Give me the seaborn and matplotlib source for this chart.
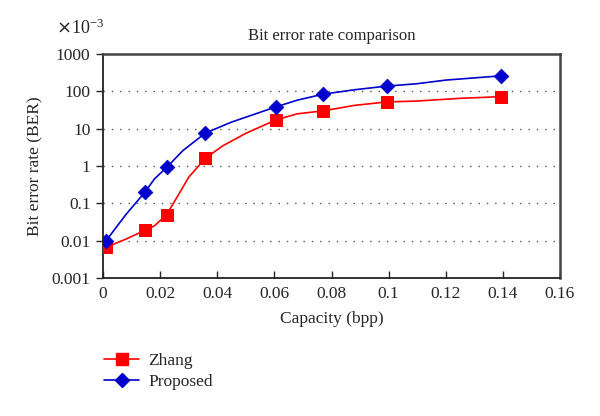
import pandas as pd
import matplotlib.pyplot as plt
import seaborn as sns
from matplotlib.lines import Line2D
from matplotlib.ticker import FixedLocator, FixedFormatter, NullLocator

# marker points
marker_x = [0.001, 0.0147, 0.0223, 0.0358, 0.0604, 0.0771, 0.0993, 0.1394]
zhang_marks = [0.0066, 0.019, 0.05, 1.6, 17, 30, 52, 72]
proposed_marks = [0.0098, 0.2, 0.92, 7.6, 38, 84, 138, 260]

# curves (denser points)
zhang_line_x = [0.001, 0.008, 0.0147, 0.018, 0.0223, 0.026, 0.03, 0.0358, 0.042, 0.05,
                0.0604, 0.068, 0.0771, 0.088, 0.0993, 0.11, 0.125, 0.1394]
zhang_line_y = [0.0066, 0.011, 0.019, 0.025, 0.05, 0.15, 0.5, 1.6, 3.5, 7.5,
                17, 25, 30, 42, 52, 55, 65, 72]
proposed_line_x = [0.001, 0.008, 0.0147, 0.018, 0.0223, 0.028, 0.0358, 0.045, 0.0604,
                   0.068, 0.0771, 0.088, 0.0993, 0.11, 0.12, 0.1394]
proposed_line_y = [0.0098, 0.05, 0.2, 0.45, 0.92, 2.6, 7.6, 15, 38,
                   58, 84, 110, 138, 160, 200, 260]

y_ticks = [0.001, 0.01, 0.1, 1, 10, 100, 1000]
y_tick_labels = ['0.001', '0.01', '0.1', '1', '10', '100', '1000']
x_ticks = [0, 0.02, 0.04, 0.06, 0.08, 0.1, 0.12, 0.14, 0.16]
x_tick_labels = ['0', '0.02', '0.04', '0.06', '0.08', '0.1', '0.12', '0.14', '0.16']

sns.set_style('white')
plt.rcParams['font.family'] = ['Liberation Serif', 'DejaVu Serif']

red = '#ff0000'
blue = '#0000cc'

fig = plt.figure(figsize=(6, 4.16), dpi=100)
ax = fig.add_axes([0.1717, 0.3317, 0.7616, 0.5385])

sns.lineplot(x=zhang_line_x, y=zhang_line_y, color=red, lw=1.2, ax=ax, sort=False, estimator=None)
sns.lineplot(x=proposed_line_x, y=proposed_line_y, color=blue, lw=1.2, ax=ax, sort=False, estimator=None)
sns.scatterplot(x=marker_x, y=zhang_marks, color=red, marker='s', s=80, edgecolor=red, ax=ax, zorder=3)
sns.scatterplot(x=marker_x, y=proposed_marks, color=blue, marker='D', s=55, edgecolor=blue, ax=ax, zorder=4)

ax.set_yscale('log')
ax.set_ylim(0.001, 1000)
ax.set_xlim(0, 0.16)
ax.yaxis.set_major_locator(FixedLocator(y_ticks))
ax.yaxis.set_major_formatter(FixedFormatter(y_tick_labels))
ax.yaxis.set_minor_locator(NullLocator())
ax.set_xticks(x_ticks)
ax.set_xticklabels(x_tick_labels)

for y in y_ticks[1:-1]:
    ax.axhline(y, color='#555555', ls=(0, (1, 5)), lw=1.0, zorder=0)

for side in ['left', 'bottom', 'top', 'right']:
    ax.spines[side].set_visible(True)
    ax.spines[side].set_color('#222222')
ax.spines['left'].set_linewidth(1.3)
ax.spines['bottom'].set_linewidth(1.3)
ax.spines['top'].set_linewidth(1.8)
ax.spines['right'].set_linewidth(1.8)
ax.spines['top'].set_color('#444444')
ax.spines['right'].set_color('#444444')

ax.tick_params(axis='y', which='major', direction='out', length=5, width=1, left=True,
               labelsize=12.5, pad=4)
ax.tick_params(axis='x', which='major', direction='in', length=5, width=1, bottom=True,
               labelsize=12.5, pad=6)

ax.set_title('Bit error rate comparison', fontsize=12, pad=10)
ax.set_xlabel('Capacity (bpp)', fontsize=12.5, labelpad=6)
ax.set_ylabel('Bit error rate (BER)', fontsize=12.5, labelpad=6)
fig.text(0.093, 0.918, r'$\times\mathregular{10^{-3}}$', fontsize=13)

handles = [
    Line2D([], [], color=red, lw=1.2, marker='s', markersize=8),
    Line2D([], [], color=blue, lw=1.2, marker='D', markersize=7),
]
fig.legend(handles, ['Zhang', 'Proposed'], loc='upper left', bbox_to_anchor=(0.162, 0.168),
           frameon=False, fontsize=12.5, handlelength=2.0, handletextpad=0.55,
           labelspacing=0.25, borderaxespad=0)

fig.savefig('out.png', dpi=100)
